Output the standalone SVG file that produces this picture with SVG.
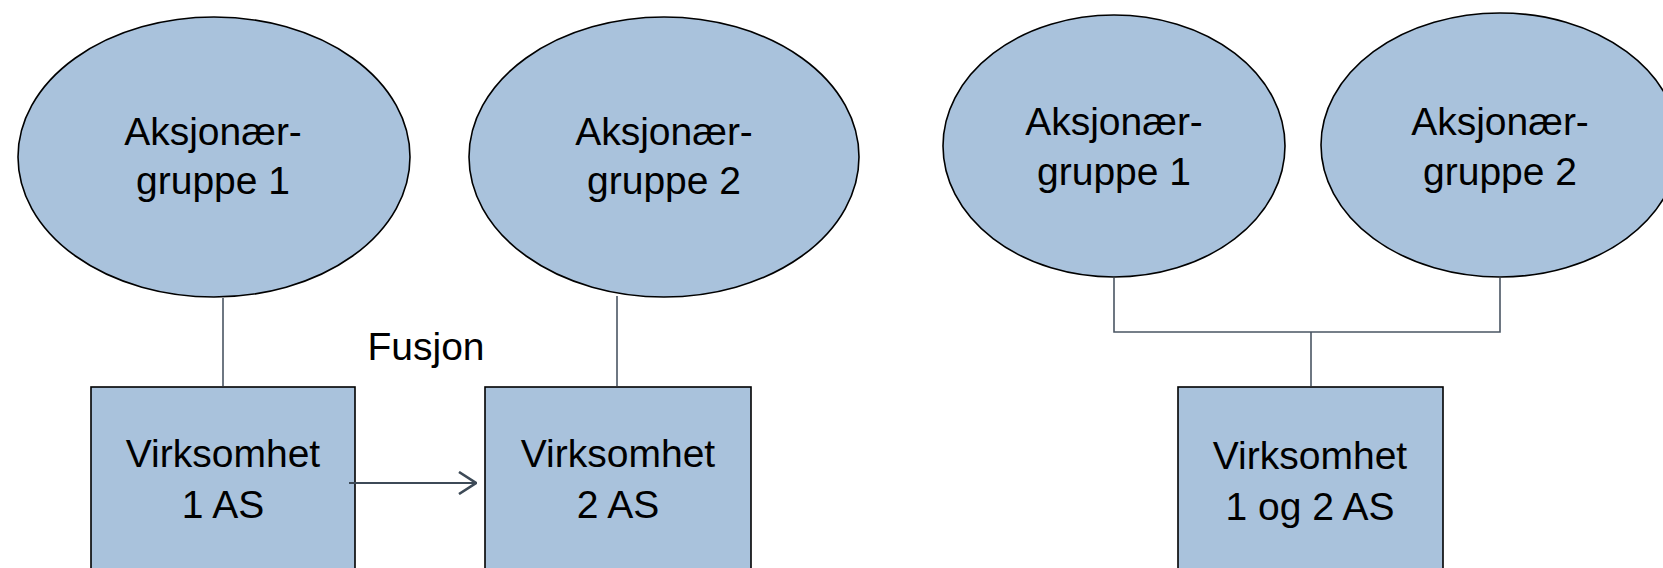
<svg xmlns="http://www.w3.org/2000/svg" width="1663" height="568" viewBox="0 0 1663 568">
<style>
.shape{fill:#a9c2dc;stroke:#000;stroke-width:1.6}
.lbl{font-family:"Liberation Sans",Arial,sans-serif;font-size:39px;fill:#000;text-anchor:middle}
.conn{fill:none;stroke:#4a5563;stroke-width:1.6}
</style>
<defs>
<marker id="chev" viewBox="0 0 20 24" refX="19" refY="12" markerWidth="20" markerHeight="24" markerUnits="userSpaceOnUse" orient="auto">
<path d="M2,1 L19,12 L2,23" fill="none" stroke="#3d4a57" stroke-width="2.6"/>
</marker>
</defs>
<rect width="1663" height="568" fill="#fff"/>
<g id="ellipse1"><ellipse class="shape" cx="214" cy="157" rx="196" ry="140"/>
<text class="lbl" x="213" y="145">Aksjonær-</text><text class="lbl" x="213" y="194">gruppe 1</text></g>
<g id="ellipse2"><ellipse class="shape" cx="664" cy="157" rx="195" ry="140"/>
<text class="lbl" x="664" y="145">Aksjonær-</text><text class="lbl" x="664" y="194">gruppe 2</text></g>
<g id="ellipse3"><ellipse class="shape" cx="1114" cy="146" rx="171" ry="131"/>
<text class="lbl" x="1114" y="135">Aksjonær-</text><text class="lbl" x="1114" y="185">gruppe 1</text></g>
<g id="ellipse4"><ellipse class="shape" cx="1500" cy="145" rx="179" ry="132"/>
<text class="lbl" x="1500" y="135">Aksjonær-</text><text class="lbl" x="1500" y="185">gruppe 2</text></g>
<g id="rect1"><rect class="shape" x="91" y="387" width="264" height="200"/>
<text class="lbl" x="223" y="467">Virksomhet</text><text class="lbl" x="223" y="518">1 AS</text></g>
<g id="rect2"><rect class="shape" x="485" y="387" width="266" height="200"/>
<text class="lbl" x="618" y="467">Virksomhet</text><text class="lbl" x="618" y="518">2 AS</text></g>
<g id="rect3"><rect class="shape" x="1178" y="387" width="265" height="200"/>
<text class="lbl" x="1310" y="469">Virksomhet</text><text class="lbl" x="1310" y="520">1 og 2 AS</text></g>
<g id="fusjon"><text class="lbl" x="426" y="360">Fusjon</text></g>
<g id="connectors">
<line class="conn" x1="223" y1="298" x2="223" y2="386"/>
<line class="conn" x1="617" y1="296" x2="617" y2="386"/>
<line x1="349" y1="483" x2="476" y2="483" stroke="#3d4a57" stroke-width="2.2" marker-end="url(#chev)"/>
<polyline class="conn" points="1114,278 1114,332 1500,332 1500,278"/>
<line class="conn" x1="1311" y1="332" x2="1311" y2="386"/>
</g>
</svg>
